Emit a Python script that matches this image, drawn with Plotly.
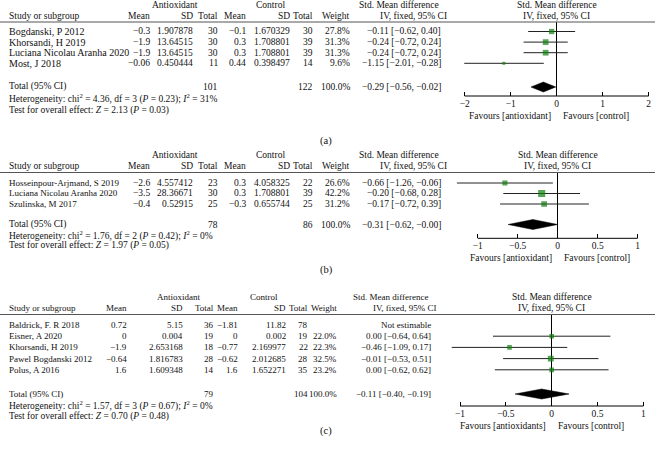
import plotly.graph_objects as go

W, H = 655, 451
FONT = "Liberation Serif"
GREEN = "#0c7f0c"
INK = "#222222"

# ---- panel (a) data ----
a_study = ["Bogdanski, P 2012", "Khorsandi, H 2019", "Luciana Nicolau Aranha 2020", "Most, J 2018"]
a_mean_t = [-0.3, -1.9, -1.9, -0.06]
a_sd_t = [1.907878, 13.64515, 13.64515, 0.450444]
a_n_t = [30, 30, 30, 11]
a_mean_c = [-0.1, 0.3, 0.3, 0.44]
a_sd_c = [1.670329, 1.708801, 1.708801, 0.398497]
a_n_c = [30, 39, 39, 14]
a_weight = [27.8, 31.3, 31.3, 9.6]
a_smd = [-0.11, -0.24, -0.24, -1.15]
a_lo = [-0.62, -0.72, -0.72, -2.01]
a_hi = [0.40, 0.24, 0.24, -0.28]
a_total = [-0.29, -0.56, -0.02]
a_total_n = [101, 122]
a_het = "Heterogeneity: chi<sup>2</sup> = 4.36, df = 3 (<i>P</i> = 0.23); <i>I</i><sup>2</sup> = 31%"
a_test = "Test for overall effect: <i>Z</i> = 2.13 (<i>P</i> = 0.03)"
a_ticks = [-2, -1, 0, 1, 2]

# ---- panel (b) data ----
b_study = ["Hosseinpour-Arjmand, S 2019", "Luciana Nicolau Aranha 2020", "Szulinska, M 2017"]
b_mean_t = [-2.6, -3.5, -0.4]
b_sd_t = [4.557412, 28.36671, 0.52915]
b_n_t = [23, 30, 25]
b_mean_c = [0.3, 0.3, -0.3]
b_sd_c = [4.058325, 1.708801, 0.655744]
b_n_c = [22, 39, 25]
b_weight = [26.6, 42.2, 31.2]
b_smd = [-0.66, -0.20, -0.17]
b_lo = [-1.26, -0.68, -0.72]
b_hi = [-0.06, 0.28, 0.39]
b_total = [-0.31, -0.62, -0.0]
b_total_n = [78, 86]
b_het = "Heterogeneity: chi<sup>2</sup> = 1.76, df = 2 (<i>P</i> = 0.42); <i>I</i><sup>2</sup> = 0%"
b_test = "Test for overall effect: <i>Z</i> = 1.97 (<i>P</i> = 0.05)"
b_ticks = [-1, -0.5, 0, 0.5, 1]

# ---- panel (c) data ----
c_study = ["Baldrick, F. R 2018", "Eisner, A 2020", "Khorsandi, H 2019", "Pawel Bogdanski 2012", "Polus, A 2016"]
c_mean_t = [0.72, 0, -1.9, -0.64, 1.6]
c_sd_t = [5.15, 0.004, 2.653168, 1.816783, 1.609348]
c_n_t = [36, 19, 18, 28, 14]
c_mean_c = [-1.81, 0, -0.77, -0.62, 1.6]
c_sd_c = [11.82, 0.002, 2.169977, 2.012685, 1.652271]
c_n_c = [78, 19, 22, 28, 35]
c_weight = [None, 22.0, 22.3, 32.5, 23.2]
c_smd = [None, 0.00, -0.46, -0.01, 0.00]
c_lo = [None, -0.64, -1.09, -0.53, -0.62]
c_hi = [None, 0.64, 0.17, 0.51, 0.62]
c_total = [-0.11, -0.40, 0.19]
c_total_label = "−0.11 [−0.40, −0.19]"  # as printed in the source
c_total_n = [79, 104]
c_het = "Heterogeneity: chi<sup>2</sup> = 1.57, df = 3 (<i>P</i> = 0.67); <i>I</i><sup>2</sup> = 0%"
c_test = "Test for overall effect: <i>Z</i> = 0.70 (<i>P</i> = 0.48)"
c_ticks = [-1, -0.5, 0, 0.5, 1]


def num(v):
    return "" if v is None else str(v).replace("-", "−")


def ci_text(est, lo, hi):
    return f"{est:.2f} [{lo:.2f}, {hi:.2f}]".replace("-", "−")


def py(px):
    return 1 - px / H


panels = [
    dict(tag="(a)", study=a_study, mt=a_mean_t, st=a_sd_t, nt=a_n_t, mc=a_mean_c, sc=a_sd_c, nc=a_n_c,
         w=a_weight, smd=a_smd, lo=a_lo, hi=a_hi, total=a_total, total_n=a_total_n, total_label=None,
         het=a_het, test=a_test, ticks=a_ticks, fav="Favours [antioxidant]", name_size=10, size=9.5,
         g=dict(top=5, head=15.5, line=22, row0=31.5, step=10.6, tot=87, axis=96, fav=116,
                het=99, test=110, tag=141, zero=556.7, unit=46, dom=(455, 653),
                cols=[152, 195, 220, 248, 292, 315, 352, 443], antiox=175, control=270)),
    dict(tag="(b)", study=b_study, mt=b_mean_t, st=b_sd_t, nt=b_n_t, mc=b_mean_c, sc=b_sd_c, nc=b_n_c,
         w=b_weight, smd=b_smd, lo=b_lo, hi=b_hi, total=b_total, total_n=b_total_n, total_label=None,
         het=b_het, test=b_test, ticks=b_ticks, fav="Favours [antioxidant]", name_size=9, size=9.5,
         g=dict(top=155, head=165.5, line=172.5, row0=183, step=10.5, tot=224.5, axis=238.3, fav=258,
                het=235, test=246, tag=270, zero=557.7, unit=80, dom=(445, 653),
                cols=[152, 195, 220, 248, 292, 315, 352, 443], antiox=175, control=270)),
    dict(tag="(c)", study=c_study, mt=c_mean_t, st=c_sd_t, nt=c_n_t, mc=c_mean_c, sc=c_sd_c, nc=c_n_c,
         w=c_weight, smd=c_smd, lo=c_lo, hi=c_hi, total=c_total, total_n=c_total_n, total_label=c_total_label,
         het=c_het, test=c_test, ticks=c_ticks, fav="Favours [antioxidants]", name_size=9, size=9,
         g=dict(top=297, head=307.5, line=314.5, row0=325, step=11.2, tot=394, axis=406, fav=426,
                het=405.5, test=416.5, tag=431, zero=551.7, unit=91.7, dom=(445, 653),
                cols=[129, 185, 216, 240, 288, 310, 339, 433], antiox=178, control=264)),
]

fig = go.Figure()
annotations = []
shapes = []


def text(x, ypx, s, anchor="right", size=9.5):
    annotations.append(dict(x=x / W, y=py(ypx), xref="paper", yref="paper", text=s, showarrow=False,
                            xanchor=anchor, yanchor="middle", font=dict(family=FONT, size=size, color="#111")))


for k, p in enumerate(panels, start=1):
    g = p["g"]
    fs = p["size"]
    xa = "x" if k == 1 else f"x{k}"
    ya = "y" if k == 1 else f"y{k}"
    cols = g["cols"]
    n = len(p["study"])
    tot_idx = (g["tot"] - g["row0"]) / g["step"]
    half = 5 / g["step"]

    # confidence interval lines
    xs, ys = [], []
    for i in range(n):
        if p["smd"][i] is None:
            continue
        xs += [p["lo"][i], p["hi"][i], None]
        ys += [i, i, None]
    fig.add_trace(go.Scatter(x=xs, y=ys, mode="lines", line=dict(color=INK, width=1),
                             xaxis=xa, yaxis=ya, hoverinfo="skip"))

    # study squares
    idx = [i for i in range(n) if p["smd"][i] is not None]
    fig.add_trace(go.Scatter(
        x=[p["smd"][i] for i in idx], y=idx, mode="markers",
        marker=dict(symbol="square", color=GREEN, size=[1.8 + p["w"][i] / 8 for i in idx],
                    line=dict(width=0)),
        xaxis=xa, yaxis=ya))

    # pooled diamond
    est, lo, hi = p["total"]
    fig.add_trace(go.Scatter(
        x=[lo, est, hi, est, lo], y=[tot_idx, tot_idx - half, tot_idx, tot_idx + half, tot_idx],
        mode="lines", fill="toself", fillcolor="black", line=dict(color="black", width=0.5),
        xaxis=xa, yaxis=ya, hoverinfo="skip"))

    d0, d1 = g["dom"]
    fig.update_layout(**{
        ("xaxis" if k == 1 else f"xaxis{k}"): dict(
            domain=[d0 / W, d1 / W], range=[(d0 - g["zero"]) / g["unit"], (d1 - g["zero"]) / g["unit"]],
            anchor=ya, tickvals=p["ticks"], showline=False, showgrid=False, ticks="inside", ticklen=4,
            tickcolor="black", zeroline=True, zerolinecolor="black", zerolinewidth=1,
            tickfont=dict(family=FONT, size=9.5, color="#111"), fixedrange=True),
        ("yaxis" if k == 1 else f"yaxis{k}"): dict(
            domain=[py(g["axis"]), py(g["line"])], anchor=xa, visible=False, fixedrange=True,
            range=[(g["axis"] - g["row0"]) / g["step"], (g["line"] - g["row0"]) / g["step"]]),
    })

    # axis line only across the tick range
    shapes.append(dict(type="line", xref=xa, yref=f"{ya} domain", x0=min(p["ticks"]), x1=max(p["ticks"]),
                       y0=0, y1=0, line=dict(color="black", width=1)))
    # header rule across the page
    shapes.append(dict(type="line", xref="paper", yref="paper", x0=0, x1=1, y0=py(g["line"]), y1=py(g["line"]),
                       line=dict(color="#555", width=1)))

    # headers
    text(g["antiox"], g["top"], "Antioxidant", "center", fs)
    text(g["control"], g["top"], "Control", "center", fs)
    text(cols[7] - 2, g["top"], "Std. Mean difference", "right", fs)
    text(g["zero"], g["top"], "Std. Mean difference", "center", 9.5)
    text(7, g["head"], "Study or subgroup", "left", fs)
    for c, lab in zip(cols[:6], ["Mean", "SD", "Total", "Mean", "SD", "Total"]):
        text(c, g["head"], lab, "right", fs)
    text(cols[6], g["head"], "Weight", "right", fs)
    text(cols[7] + 6, g["head"], "IV, fixed, 95% CI", "right", fs)
    text(g["zero"], g["head"], "IV, fixed, 95% CI", "center", 9.5)

    # study rows
    for i in range(n):
        y = g["row0"] + i * g["step"]
        text(7, y, p["study"][i], "left", p["name_size"])
        vals = [p["mt"][i], p["st"][i], p["nt"][i], p["mc"][i], p["sc"][i], p["nc"][i]]
        for c, v in zip(cols[:6], vals):
            text(c, y, num(v), "right", fs)
        if p["w"][i] is not None:
            text(cols[6], y, f"{p['w'][i]:.1f}%", "right", fs)
        if p["smd"][i] is None:
            text(cols[7], y, "Not estimable", "right", fs)
        else:
            text(cols[7], y, ci_text(p["smd"][i], p["lo"][i], p["hi"][i]), "right", fs)

    # total row and footers
    text(7, g["tot"], "Total (95% CI)", "left", fs)
    text(cols[2], g["tot"], str(p["total_n"][0]), "right", fs)
    text(cols[5], g["tot"], str(p["total_n"][1]), "right", fs)
    text(cols[6], g["tot"], "100.0%", "right", fs)
    text(cols[7], g["tot"], p["total_label"] or ci_text(*p["total"]), "right", fs)
    text(7, g["het"], p["het"], "left", 9.5)
    text(7, g["test"], p["test"], "left", 9.5)
    text(g["zero"] - 4, g["fav"], p["fav"])
    text(g["zero"] + 4, g["fav"], "Favours [control]", "left")
    text(326, g["tag"], p["tag"], "center", 10.5)

fig.update_layout(
    width=W, height=H, margin=dict(l=0, r=0, t=0, b=0),
    paper_bgcolor="white", plot_bgcolor="white", showlegend=False,
    annotations=annotations, shapes=shapes,
)

# the page body has a default 8px margin; drop it so the figure sits at the window origin
fig.write_html("out.html", config={"displayModeBar": False},
               post_script="document.body.style.margin='0px';")
